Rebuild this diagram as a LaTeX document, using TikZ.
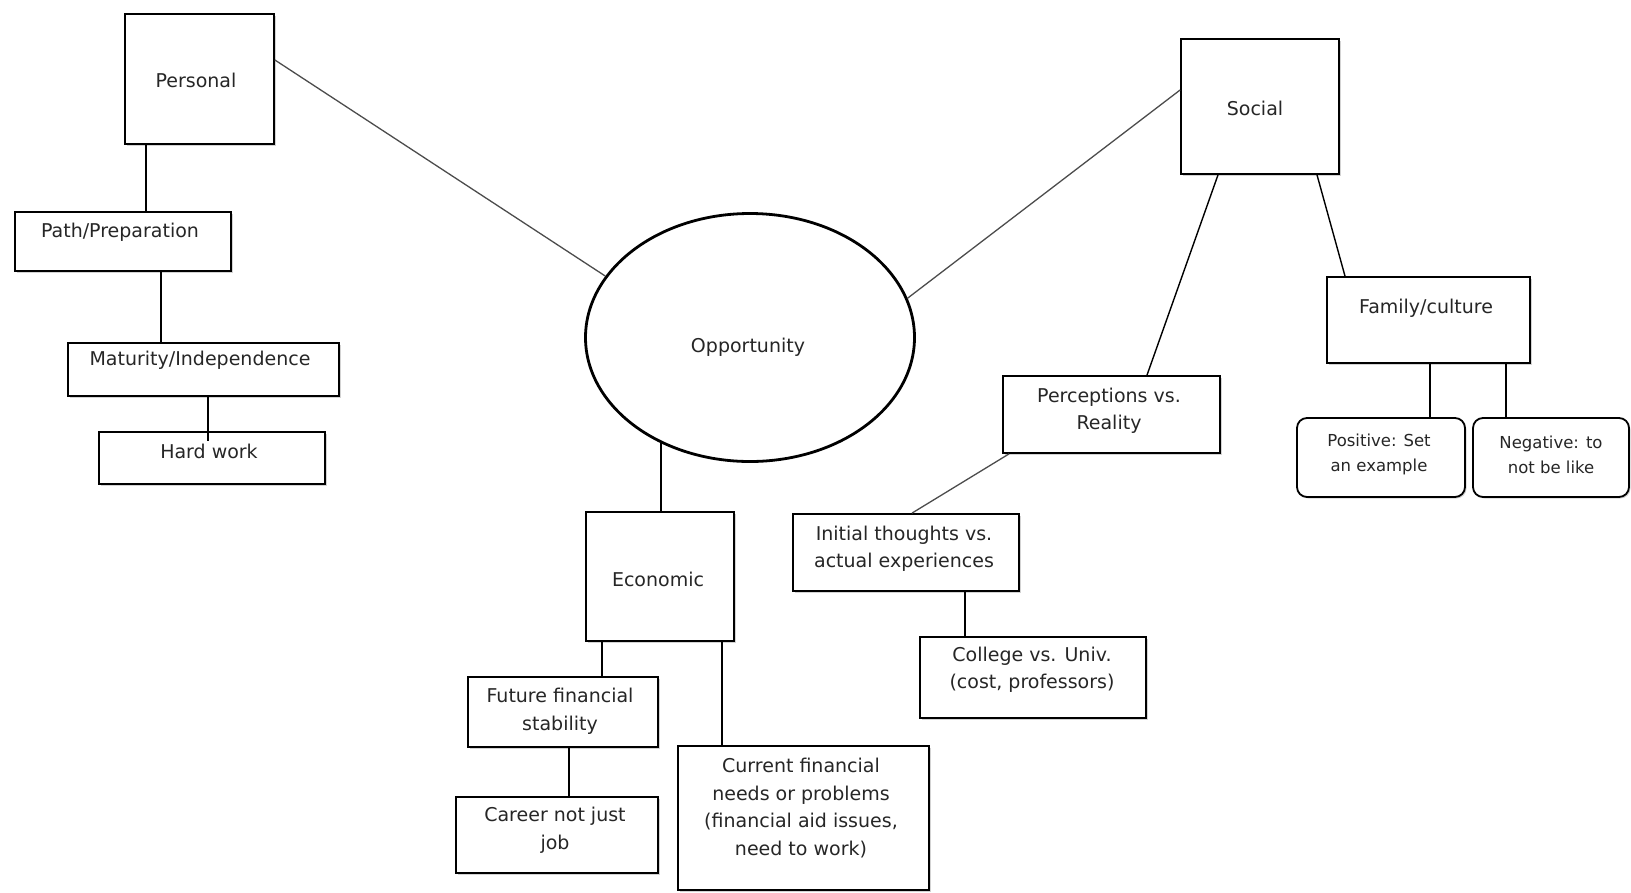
\documentclass[tikz,border=0pt]{standalone}
\usepackage{fontspec}
\setmainfont{DejaVu Sans}
\usetikzlibrary{fit,shapes.geometric,shadows}
\begin{document}
\begin{tikzpicture}[x=1pt,y=-1pt,
  box/.style={draw=black, line width=1.8pt, fill=white, inner sep=0pt,
    drop shadow={shadow xshift=1.5pt, shadow yshift=-1.5pt, opacity=0.35}},
  rbox/.style={box, rounded corners=10pt},
  txt/.style={align=center, inner sep=0pt, text=black!85,
    font=\fontsize{19}{27.5}\selectfont},
  stxt/.style={align=center, inner sep=0pt, text=black!85,
    font=\fontsize{16.5}{25}\selectfont},
  conn/.style={line width=1.4pt, black},
  gconn/.style={line width=1.3pt, black!70}]
\useasboundingbox (0,0) rectangle (1631,892);

% Boxes
\node[box, fit={(125,14) (274,144)}] (personal) {};
\node[box, fit={(15,212) (231,271)}] (path) {};
\node[box, fit={(68,343) (339,396)}] (matur) {};
\node[box, fit={(99,432) (325,484)}] (hard) {};
\node[draw, line width=2.8pt, ellipse, fill=white, inner sep=0pt,
  minimum width=329pt, minimum height=248pt] (opp) at (750,337.5) {};
\node[box, fit={(1181,39) (1339,174)}] (social) {};
\node[box, fit={(1327,277) (1530,363)}] (family) {};
\node[rbox, fit={(1297,418) (1465,497)}] (pos) {};
\node[rbox, fit={(1473,418) (1629,497)}] (neg) {};
\node[box, fit={(1003,376) (1220,453)}] (perc) {};
\node[box, fit={(793,514) (1019,591)}] (init) {};
\node[box, fit={(920,637) (1146,718)}] (college) {};
\node[box, fit={(586,512) (734,641)}] (econ) {};
\node[box, fit={(468,677) (658,747)}] (future) {};
\node[box, fit={(456,797) (658,873)}] (career) {};
\node[box, fit={(678,746) (929,890)}] (current) {};

% Texts
\node[txt] (personal-t) at (196,80) {Personal};
\node[txt] (path-t) at (120,232) {Path/Preparation};
\node[txt] (matur-t) at (200,360) {Maturity/Independence};
\node[txt] (hard-t) at (209,451) {Hard work};
\node[txt] (opp-t) at (748,347) {Opportunity};
\node[txt] (social-t) at (1255,108) {Social};
\node[txt] (family-t) at (1426,308) {Family/culture};
\node[stxt] (pos-t) at (1379,454.5) {Positive: Set\\an example};
\node[stxt] (neg-t) at (1551,454.5) {Negative: to\\not be like};
\node[txt] (perc-t) at (1109,411) {Perceptions vs.\\Reality};
\node[txt] (init-t) at (904,548.5) {Initial thoughts vs.\\actual experiences};
\node[txt] (college-t) at (1032,669.5) {College vs. Univ.\\(cost, professors)};
\node[txt] (econ-t) at (658,579) {Economic};
\node[txt] (future-t) at (560,711) {Future financial\\stability};
\node[txt] (career-t) at (555,830) {Career not just\\job};
\node[txt] (current-t) at (801,808) {Current financial\\needs or problems\\(financial aid issues,\\need to work)};

% Connectors
\draw[gconn] (personal.east |- 0,60) -- (opp.157.8);
\draw[gconn] (opp.14.9) -- (social.west |- 0,90);
\draw[conn] (personal.south -| 146,0) -- (path.north -| 146,0);
\draw[conn] (path.south -| 161,0) -- (matur.north -| 161,0);
\draw[conn] (matur.south -| 208,0) -- (hard.north -| 208,0) -- ++(0,10);
\draw[conn] (opp.230.4) -- (econ.north -| opp.230.4);
\draw[conn] (econ.south -| 602,0) -- (future.north -| 602,0);
\draw[conn] (econ.south -| 722,0) -- (current.north -| 722,0);
\draw[conn] (future.south -| 569,0) -- (career.north -| 569,0);
\draw[conn] (social.south -| 1218,0) -- (perc.north -| 1147,0);
\draw[conn] (social.south -| 1317,0) -- (family.north -| 1345,0);
\draw[conn] (family.south -| 1430,0) -- (pos.north -| 1430,0);
\draw[conn] (family.south -| 1506,0) -- (neg.north -| 1506,0);
\draw[gconn] (perc.south -| 1009,0) -- (init.north -| 912,0);
\draw[conn] (init.south -| 965,0) -- (college.north -| 965,0);
\end{tikzpicture}
\end{document}
